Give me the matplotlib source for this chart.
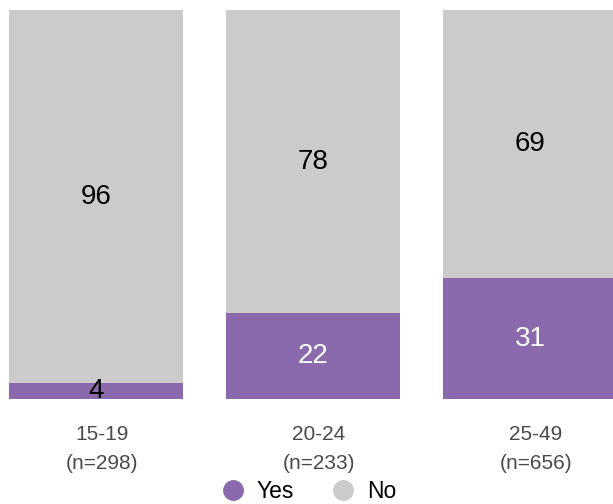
import matplotlib.pyplot as plt
from matplotlib.lines import Line2D
from matplotlib.transforms import ScaledTranslation
import numpy as np

groups = ['15-19', '20-24', '25-49']
counts = [298, 233, 656]
yes = [4, 22, 31]
no = [96, 78, 69]

purple = '#8a69ad'
grey = '#cccbca'

plt.rcParams['font.family'] = ['Liberation Sans', 'DejaVu Sans']

fig = plt.figure(figsize=(6.13, 5.04), dpi=100)
ax = fig.add_axes([0, 0.2083, 1, 0.7718])

x = np.arange(len(groups))
ax.bar(x, yes, width=0.8, color=purple)
ax.bar(x, no, bottom=yes, width=0.8, color=grey)

for i in range(len(groups)):
    ax.text(x[i], yes[i] / 2, str(yes[i]), ha='center', va='center',
            fontsize=20, color='black' if yes[i] < 10 else 'white')
    ax.text(x[i], yes[i] + no[i] / 2, str(no[i]), ha='center', va='center',
            fontsize=20, color='black')

ax.set_xlim(-0.442, 2.382)
ax.set_ylim(0, 100)
ax.set_xticks(x)
ax.set_xticklabels([g + '\n(n=' + str(n) + ')' for g, n in zip(groups, counts)],
                   fontsize=15, color='#4a4a4a', linespacing=1.65)
ax.tick_params(axis='x', length=0, pad=19)
# labels sit a few px right of the bar centres in the original
shift = ScaledTranslation(0.06, 0, fig.dpi_scale_trans)
for lab in ax.get_xticklabels():
    lab.set_transform(lab.get_transform() + shift)
ax.set_yticks([])
for s in ax.spines.values():
    s.set_visible(False)

handles = [Line2D([], [], marker='o', linestyle='', markersize=14, color=purple, label='Yes'),
           Line2D([], [], marker='o', linestyle='', markersize=14, color=grey, label='No')]
fig.legend(handles=handles, loc='center', bbox_to_anchor=(0.504, 0.024), ncol=2,
           frameon=False, fontsize=16.5, handlelength=1.0, handletextpad=0.54,
           columnspacing=1.63, borderaxespad=0, borderpad=0)

fig.savefig('out.png', dpi=100)
